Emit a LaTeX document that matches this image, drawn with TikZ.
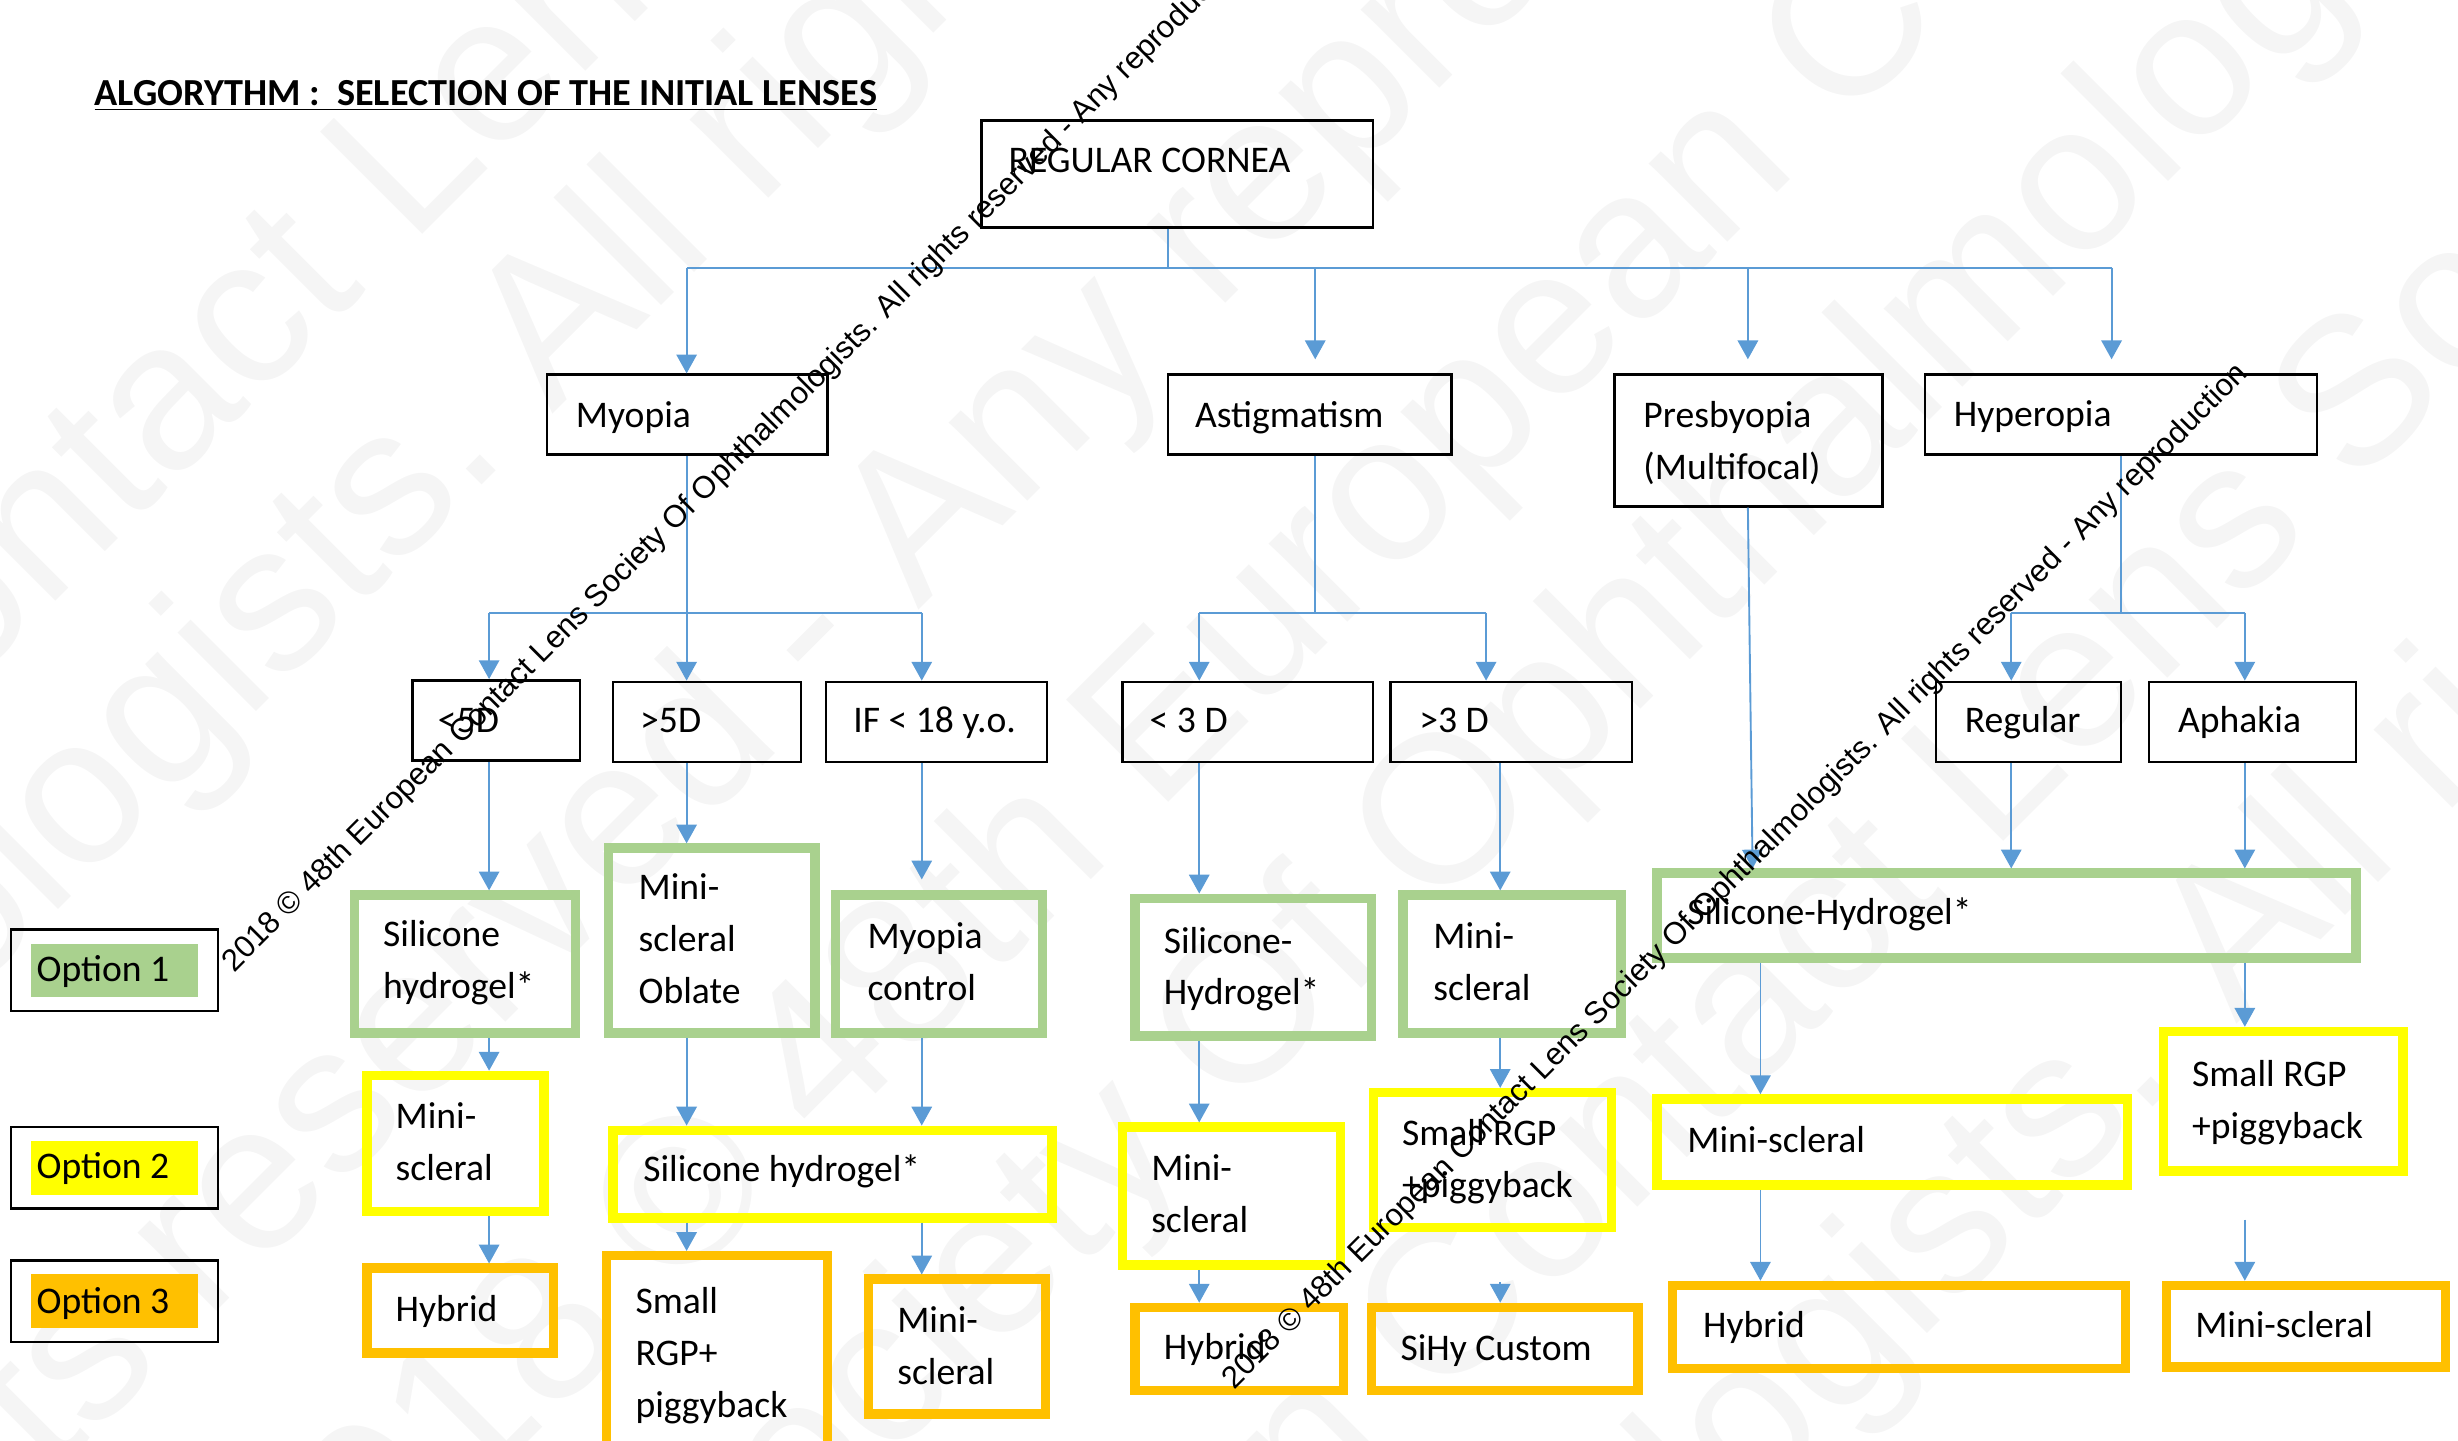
\documentclass[tikz,border=0pt]{standalone}
\usepackage{fontspec}
\setmainfont{Carlito}
\newfontfamily\wmfont{Liberation Sans}
\usetikzlibrary{arrows.meta,fit}

\definecolor{optgreen}{HTML}{A9D18E}
\definecolor{optyellow}{HTML}{FFFF00}
\definecolor{optorange}{HTML}{FFC000}
\definecolor{linkblue}{HTML}{5B9BD5}

\tikzset{
  bx/.style={draw=black, line width=0.8pt, inner sep=0pt},
  opt1/.style={draw=optgreen, line width=3pt, inner sep=-1.5pt},
  opt2/.style={draw=optyellow, line width=3pt, inner sep=-1.5pt},
  opt3/.style={draw=optorange, line width=3pt, inner sep=-1.5pt},
  lbl/.style={anchor=base west, inner sep=0pt, align=flush left, text width=110pt,
    font=\fontsize{12}{16.5}\selectfont},
  link/.style={draw=linkblue, line width=0.6pt},
  arr/.style={link, -{Triangle[length=6pt,width=6.5pt]}},
  wmbig/.style={inner sep=0pt, rotate=45, text=black!4,
    font=\wmfont\fontsize{67}{67}\selectfont},
  wmline/.style={inner sep=0pt, rotate=45, anchor=base west,
    font=\wmfont\fontsize{9.9}{10}\selectfont},
}

\begin{document}
\begin{tikzpicture}[x=0.5pt, y=-0.5pt]
\useasboundingbox (0,0) rectangle (1568,919);

% light watermark in the background
\begin{scope}
  \clip (0,0) rectangle (1568,919);
  \node[wmbig, anchor=base east] (wmA1) at (235,184) {2018 © 48th European Contact};
  \node[wmbig, anchor=base west] (wmA2) at (235,184) {\ Lens Society Of Ophthalmologists.};
  \node[wmbig, anchor=base east] (wmB1) at (326,291) {Contact Lens Society Of Ophthalmologists.};
  \node[wmbig, anchor=base west] (wmB2) at (326,291) {\ All rights reserved - Any reproduction};
  \node[wmbig, anchor=base east] (wmC1) at (559,416) {Ophthalmologists. All rights reserved -};
  \node[wmbig, anchor=base west] (wmC2) at (559,416) {\ Any reproduction};
  \node[wmbig, anchor=base east] (wmD1) at (711,546) {2018 © 48th};
  \node[wmbig, anchor=base west] (wmD2) at (711,546) {\ European Contact Lens Society};
  \node[wmbig, anchor=base east] (wmE1) at (887,612) {Contact Lens Society Of};
  \node[wmbig, anchor=base west] (wmE2) at (887,612) {\ Ophthalmologists. All rights};
  \node[wmbig, anchor=base east] (wmF1) at (1244,571) {2018 © 48th European Contact};
  \node[wmbig, anchor=base west] (wmF2) at (1244,571) {\ Lens Society Of};
  \node[wmbig, anchor=base east] (wmG1) at (1170,910) {Society Of Ophthalmolo};
  \node[wmbig, anchor=base west] (wmG2) at (1170,910) {gists. All rights reserved};
\end{scope}

% title
\node[anchor=base west, inner sep=0pt, font=\bfseries\fontsize{12.2}{14}\selectfont] (title) at (60,67)
  {\underline{ALGORYTHM :\ \ SELECTION OF THE INITIAL LENSES}};

% first levels (black boxes)
\node[bx, fit={(626,77)(876,145)}] (cornea) {};
\node[lbl] (cornea-t) at (643,110) {REGULAR CORNEA};
\node[bx, fit={(349,239)(528,290)}] (myopia) {};
\node[lbl] (myopia-t) at (367,273) {Myopia};
\node[bx, fit={(745,239)(926,290)}] (astig) {};
\node[lbl] (astig-t) at (762,273) {Astigmatism};
\node[bx, fit={(1030,239)(1201,323)}] (presby) {};
\node[lbl] (presby-t) at (1048,273) {Presbyopia\\(Multifocal)};
\node[bx, fit={(1228,239)(1478,290)}] (hyper) {};
\node[lbl] (hyper-t) at (1246,272) {Hyperopia};

\node[bx, fit={(263,434)(370,485)}] (lt5) {};
\node[lbl] (lt5-t) at (279,467) {<5D};
\node[bx, fit={(391,435)(511,486)}] (gt5) {};
\node[lbl] (gt5-t) at (408,467) {>5D};
\node[bx, fit={(527,435)(668,486)}] (if18) {};
\node[lbl] (if18-t) at (544,467) {IF < 18 y.o.};
\node[bx, fit={(716,435)(876,486)}] (lt3) {};
\node[lbl] (lt3-t) at (733,467) {< 3 D};
\node[bx, fit={(887,435)(1041,486)}] (gt3) {};
\node[lbl] (gt3-t) at (905,467) {>3 D};
\node[bx, fit={(1235,435)(1353,486)}] (regular) {};
\node[lbl] (regular-t) at (1253,467) {Regular};
\node[bx, fit={(1371,435)(1503,486)}] (aphakia) {};
\node[lbl] (aphakia-t) at (1389,467) {Aphakia};

% option 1
\node[opt1, fit={(223,568)(370,662)}] (sihy1) {};
\node[lbl] (sihy1-t) at (244,604) {Silicone\\hydrogel*};
\node[opt1, fit={(385,538)(523,662)}] (oblate) {};
\node[lbl] (oblate-t) at (407,574) {Mini-\\scleral\\Oblate};
\node[opt1, fit={(530,568)(668,662)}] (myoctl) {};
\node[lbl] (myoctl-t) at (553,605) {Myopia\\control};
\node[opt1, fit={(721,570)(878,664)}] (sihy2) {};
\node[lbl] (sihy2-t) at (742,608) {Silicone-\\Hydrogel*};
\node[opt1, fit={(892,568)(1037,662)}] (mini1) {};
\node[lbl] (mini1-t) at (914,605) {Mini-\\scleral};
\node[opt1, fit={(1054,554)(1506,614)}] (sihy3) {};
\node[lbl] (sihy3-t) at (1076,590) {Silicone-Hydrogel*};

% option 2
\node[opt2, fit={(231,683)(350,776)}] (mini2) {};
\node[lbl] (mini2-t) at (252,720) {Mini-\\scleral};
\node[opt2, fit={(388,718)(674,780)}] (sihy4) {};
\node[lbl] (sihy4-t) at (410,754) {Silicone hydrogel*};
\node[opt2, fit={(713,716)(858,810)}] (mini3) {};
\node[lbl] (mini3-t) at (734,753) {Mini-\\scleral};
\node[opt2, fit={(873,694)(1031,786)}] (rgp1) {};
\node[lbl] (rgp1-t) at (894,731) {Small RGP\\+piggyback};
\node[opt2, fit={(1054,698)(1360,759)}] (mini4) {};
\node[lbl] (mini4-t) at (1076,735) {Mini-scleral};
\node[opt2, fit={(1377,655)(1536,750)}] (rgp2) {};
\node[lbl] (rgp2-t) at (1398,693) {Small RGP\\+piggyback};

% option 3
\node[opt3, fit={(231,806)(356,866)}] (hyb1) {};
\node[lbl] (hyb1-t) at (252,843) {Hybrid};
\node[opt3, fit={(384,798)(531,935)}] (rgp3) {};
\node[lbl] (rgp3-t) at (405,838) {Small\\RGP+\\piggyback};
\node[opt3, fit={(551,813)(670,905)}] (mini5) {};
\node[lbl] (mini5-t) at (572,850) {Mini-\\scleral};
\node[opt3, fit={(721,831)(860,890)}] (hyb2) {};
\node[lbl] (hyb2-t) at (742,867) {Hybrid};
\node[opt3, fit={(872,831)(1048,890)}] (custom) {};
\node[lbl] (custom-t) at (893,868) {SiHy Custom};
\node[opt3, fit={(1064,817)(1359,876)}] (hyb3) {};
\node[lbl] (hyb3-t) at (1086,853) {Hybrid};
\node[opt3, fit={(1379,817)(1563,875)}] (mini6) {};
\node[lbl] (mini6-t) at (1400,853) {Mini-scleral};

% legend
\node[bx, fit={(7,593)(139,645)}] (leg1) {};
\node[fill=optgreen, inner sep=0pt, fit={(20,602)(126,636)}] (leg1f) {};
\node[lbl] (leg1-t) at (23,626) {Option 1};
\node[bx, fit={(7,719)(139,771)}] (leg2) {};
\node[fill=optyellow, inner sep=0pt, fit={(20,728)(126,762)}] (leg2f) {};
\node[lbl] (leg2-t) at (23,752) {Option 2};
\node[bx, fit={(7,804)(139,856)}] (leg3) {};
\node[fill=optorange, inner sep=0pt, fit={(20,813)(126,847)}] (leg3f) {};
\node[lbl] (leg3-t) at (23,838) {Option 3};

% columns of the connectors
\coordinate (k0) at (745,0);
\coordinate (k1) at (312,0);
\coordinate (k2) at (438,0);
\coordinate (k3) at (588,0);
\coordinate (k4) at (765,0);
\coordinate (k5) at (839,0);
\coordinate (k6) at (948,0);
\coordinate (k7) at (957,0);
\coordinate (kp) at (1115,0);
\coordinate (kq) at (1118,0);
\coordinate (kr) at (1123,0);
\coordinate (k10) at (1283,0);
\coordinate (k11) at (1347,0);
\coordinate (k12) at (1353,0);
\coordinate (k13) at (1432,0);

% cornea to the four groups
\draw[link] (cornea.south -| k0) -- ++(0,25) coordinate (bus0);
\draw[link] (bus0 -| k2) -- (bus0 -| k11);
\draw[arr] (bus0 -| k2) -- (myopia.north -| k2);
\draw[arr, shorten >=4.5pt] (bus0 -| k5) -- (astig.north -| k5);
\draw[arr, shorten >=4.5pt] (bus0 -| kp) -- (presby.north -| kp);
\draw[arr, shorten >=4.5pt] (bus0 -| k11) -- (hyper.north -| k11);

% myopia
\draw[link] (myopia.south -| k2) -- ++(0,100) coordinate (bus1);
\draw[link] (bus1 -| k1) -- (bus1 -| k3);
\draw[arr] (bus1 -| k1) -- (lt5.north -| k1);
\draw[arr] (bus1 -| k2) -- (gt5.north -| k2);
\draw[arr] (bus1 -| k3) -- (if18.north -| k3);
\draw[arr] (lt5.south -| k1) -- (sihy1.north -| k1);
\draw[arr] (sihy1.south -| k1) -- (mini2.north -| k1);
\draw[arr] (mini2.south -| k1) -- (hyb1.north -| k1);
\draw[arr] (gt5.south -| k2) -- (oblate.north -| k2);
\draw[arr] (oblate.south -| k2) -- (sihy4.north -| k2);
\draw[arr] (sihy4.south -| k2) -- (rgp3.north -| k2);
\draw[arr, shorten >=3.5pt] (if18.south -| k3) -- (myoctl.north -| k3);
\draw[arr] (myoctl.south -| k3) -- (sihy4.north -| k3);
\draw[arr] (sihy4.south -| k3) -- (mini5.north -| k3);

% astigmatism
\draw[link] (astig.south -| k5) -- ++(0,100) coordinate (bus2);
\draw[link] (bus2 -| k4) -- (bus2 -| k6);
\draw[arr] (bus2 -| k4) -- (lt3.north -| k4);
\draw[arr] (bus2 -| k6) -- (gt3.north -| k6);
\draw[arr] (lt3.south -| k4) -- (sihy2.north -| k4);
\draw[arr] (sihy2.south -| k4) -- (mini3.north -| k4);
\draw[arr] (mini3.south -| k4) -- (hyb2.north -| k4);
\draw[arr] (gt3.south -| k7) -- (mini1.north -| k7);
\draw[arr] (mini1.south -| k7) -- (rgp1.north -| k7);
\draw[arr, shorten <=16pt] (rgp1.south -| k7) -- (custom.north -| k7);

% presbyopia
\draw[arr] (presby.south -| kp) -- (sihy3.north -| kq);
\draw[arr] (sihy3.south -| kr) -- (mini4.north -| kr);
\draw[arr] (mini4.south -| kr) -- (hyb3.north -| kr);

% hyperopia
\draw[link] (hyper.south -| k12) -- ++(0,100) coordinate (bus3);
\draw[link] (bus3 -| k10) -- (bus3 -| k13);
\draw[arr] (bus3 -| k10) -- (regular.north -| k10);
\draw[arr] (bus3 -| k13) -- (aphakia.north -| k13);
\draw[arr] (regular.south -| k10) -- (sihy3.north -| k10);
\draw[arr] (aphakia.south -| k13) -- (sihy3.north -| k13);
\draw[arr] (sihy3.south -| k13) -- (rgp2.north -| k13);
\draw[arr, shorten <=14pt] (rgp2.south -| k13) -- (mini6.north -| k13);

% copyright lines on top
\node[wmline] (wm1) at (149,621) {2018 © 48th European Contact Lens Society Of Ophthalmologists. All rights reserved - Any reproduction};
\node[wmline] (wm2) at (787,887) {2018 © 48th European Contact Lens Society Of Ophthalmologists. All rights reserved - Any reproduction};
\end{tikzpicture}
\end{document}
